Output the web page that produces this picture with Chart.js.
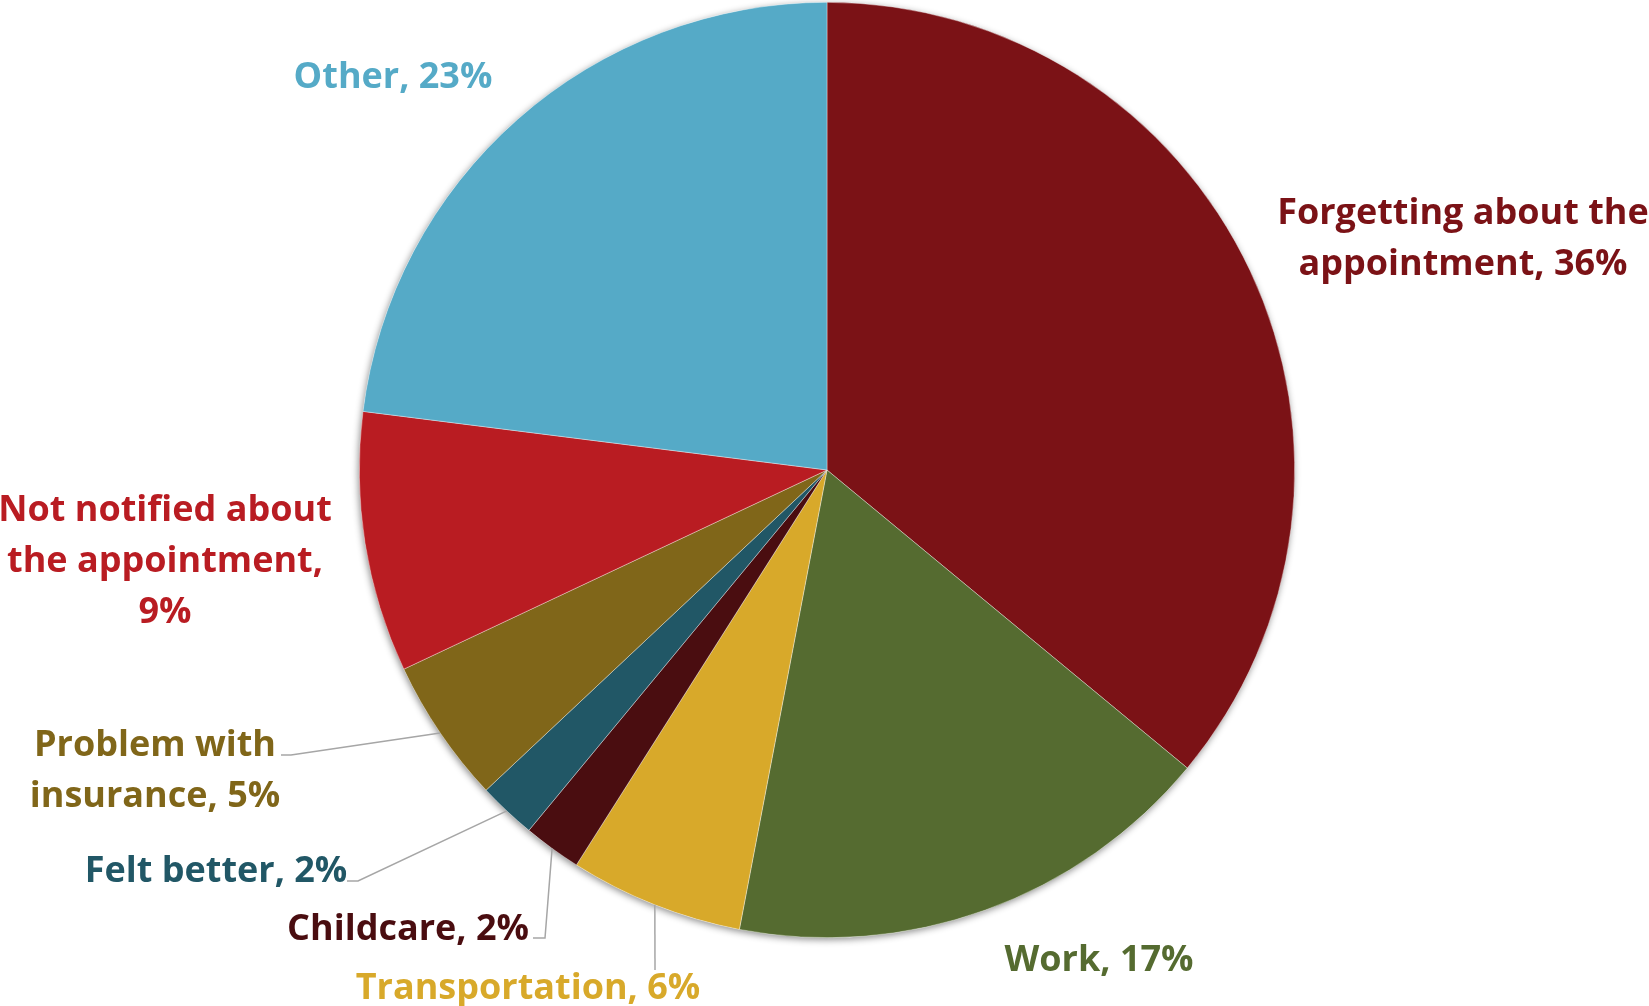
<!DOCTYPE html>
<html>
<head>
<meta charset="utf-8">
<title>Reasons for missed appointments</title>
<script src="https://cdn.jsdelivr.net/npm/chart.js@4.4.1/dist/chart.umd.min.js"></script>
<style>
  html, body { margin: 0; padding: 0; background: #fff; }
  #wrap { width: 1649px; height: 1006px; position: relative; }
</style>
</head>
<body>
<div id="wrap"><canvas id="reasonsChart" width="1649" height="1006"></canvas></div>
<script>
// Reasons for missing the appointment (share of respondents, %)
const reasons = [
  "Forgetting about the appointment",
  "Work",
  "Transportation",
  "Childcare",
  "Felt better",
  "Problem with insurance",
  "Not notified about the appointment",
  "Other"
];
const percents = [36, 17, 6, 2, 2, 5, 9, 23];
const sliceColors = ["#7B1216", "#556B30", "#D8A92A", "#4A0D10", "#215766", "#806619", "#B91C22", "#55AAC7"];

// Label text lines for each slice (last line gets the percentage appended)
const labelLines = [
  ["Forgetting about the", "appointment,"],
  ["Work,"],
  ["Transportation,"],
  ["Childcare,"],
  ["Felt better,"],
  ["Problem with", "insurance,"],
  ["Not notified about", "the appointment,", ""],
  ["Other,"]
];

// Where each label block sits (x = centre of text, y = centre of first line),
// plus the bend points of the leader line for the small slices.
const labelLayout = [
  { x: 1463, y: 214 },
  { x: 1099, y: 961 },
  { x: 528,  y: 989, leader: [[655, 970]] },
  { x: 408,  y: 930, leader: [[545, 938], [533, 938]] },
  { x: 216,  y: 872, leader: [[358, 881], [347, 881]] },
  { x: 155,  y: 746, leader: [[291, 755], [281, 755]] },
  { x: 165,  y: 511 },
  { x: 393,  y: 78 }
];

const lineHeight = 51;
const labelFont = "bold 36px 'Open Sans', Lato, sans-serif";

// soft shadow behind the whole pie
const pieShadow = {
  id: "pieShadow",
  beforeDatasetsDraw(chart) {
    const arc = chart.getDatasetMeta(0).data[0];
    if (!arc) return;
    const ctx = chart.ctx;
    ctx.save();
    ctx.shadowColor = "rgba(0,0,0,0.45)";
    ctx.shadowBlur = 7;
    ctx.shadowOffsetX = -1;
    ctx.shadowOffsetY = 2;
    ctx.fillStyle = "#ffffff";
    ctx.beginPath();
    ctx.arc(arc.x, arc.y, arc.outerRadius, 0, Math.PI * 2);
    ctx.fill();
    ctx.restore();
  }
};

// data labels + leader lines
const sliceLabels = {
  id: "sliceLabels",
  afterDatasetsDraw(chart) {
    const ctx = chart.ctx;
    const meta = chart.getDatasetMeta(0);
    ctx.save();
    meta.data.forEach((arc, i) => {
      const pos = labelLayout[i];
      if (pos.leader) {
        const mid = (arc.startAngle + arc.endAngle) / 2;
        const ex = arc.x + Math.cos(mid) * arc.outerRadius;
        const ey = arc.y + Math.sin(mid) * arc.outerRadius;
        ctx.strokeStyle = "#A6A6A6";
        ctx.lineWidth = 1.5;
        ctx.beginPath();
        ctx.moveTo(ex, ey);
        pos.leader.forEach(p => ctx.lineTo(p[0], p[1]));
        ctx.stroke();
      }
      const lines = labelLines[i].slice();
      const last = lines.length - 1;
      lines[last] = (lines[last] ? lines[last] + " " : "") + percents[i] + "%";
      ctx.font = labelFont;
      ctx.fillStyle = sliceColors[i];
      ctx.textAlign = "center";
      ctx.textBaseline = "middle";
      lines.forEach((t, k) => ctx.fillText(t, pos.x, pos.y + k * lineHeight));
    });
    ctx.restore();
  }
};

new Chart(document.getElementById("reasonsChart"), {
  type: "pie",
  data: {
    labels: reasons,
    datasets: [{
      data: percents,
      backgroundColor: sliceColors,
      borderColor: "rgba(255,255,255,0.6)",
      borderWidth: 0.6
    }]
  },
  options: {
    responsive: false,
    animation: false,
    layout: { padding: { left: 359, right: 354, top: 2, bottom: 68 } },
    plugins: {
      legend: { display: false },
      tooltip: { enabled: false }
    }
  },
  plugins: [pieShadow, sliceLabels]
});
</script>
</body>
</html>
